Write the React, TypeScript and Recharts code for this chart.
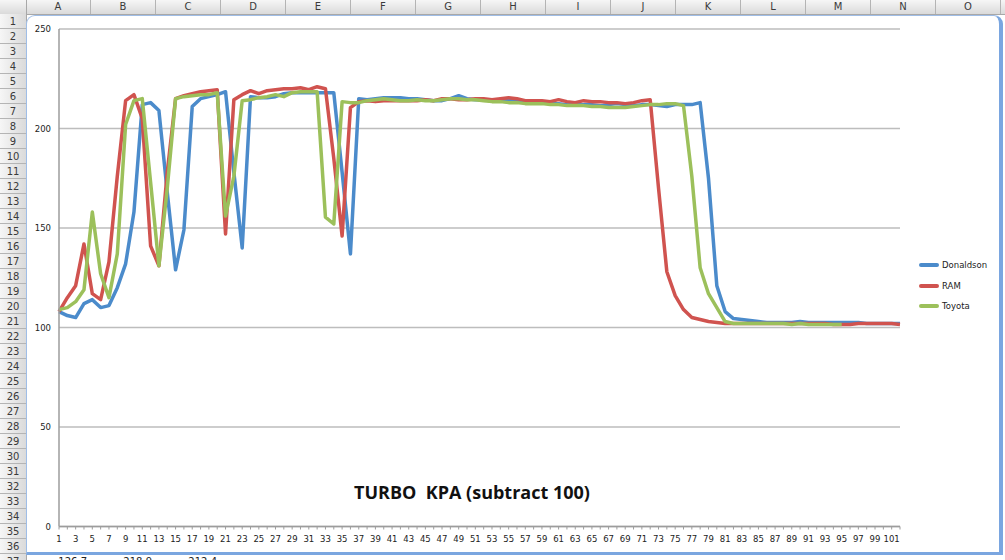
import React from 'react';
import { LineChart, Line, XAxis, YAxis, CartesianGrid, Legend } from 'recharts';

// sample number on the x axis
const samples = [
  1, 2, 3, 4, 5, 6, 7, 8, 9, 10, 11, 12, 13, 14, 15, 16, 17, 18, 19, 20,
  21, 22, 23, 24, 25, 26, 27, 28, 29, 30, 31, 32, 33, 34, 35, 36, 37, 38, 39, 40,
  41, 42, 43, 44, 45, 46, 47, 48, 49, 50, 51, 52, 53, 54, 55, 56, 57, 58, 59, 60,
  61, 62, 63, 64, 65, 66, 67, 68, 69, 70, 71, 72, 73, 74, 75, 76, 77, 78, 79, 80,
  81, 82, 83, 84, 85, 86, 87, 88, 89, 90, 91, 92, 93, 94, 95, 96, 97, 98, 99, 100,
  101, 102,
];

const donaldson = [
  108, 106, 105, 112, 114, 110, 111, 120, 132, 158,
  212, 213, 209, 168, 129, 149, 211, 215, 216, 217,
  218.5, 178, 140, 216, 215.5, 215.5, 216, 217.5, 218, 218,
  218, 218, 218, 218, 178, 137, 215, 214.5, 215, 215.5,
  215.5, 215.5, 215, 215, 214.5, 214, 214, 215, 216.5, 215,
  214.5, 214.5, 214, 214, 214, 214, 213.5, 213, 213, 212.5,
  212.5, 212, 212.5, 212, 212, 211.5, 212, 212.5, 212, 211.5,
  212, 212, 211.5, 211, 212, 212, 212, 213, 175, 121,
  108, 104.5, 104, 103.5, 103, 102.5, 102.5, 102.5, 102.5, 103,
  102.5, 102.5, 102.5, 102.5, 102.5, 102.5, 102.5, 102, 102, 102,
  102, 102,
];

const ram = [
  108, 115, 121, 142, 117, 114, 133, 176, 214, 217,
  205, 141, 131, 178, 215, 216.5, 217.5, 218.5, 219, 219.5,
  147, 214.5, 217, 219, 217.5, 219, 219.5, 220, 220, 220.5,
  219.5, 221, 220, 185, 146, 210.5, 213.5, 214, 213.5, 214,
  214, 214, 214, 214, 214.5, 214, 215, 215, 214.5, 214.5,
  215, 215, 214.5, 215, 215.5, 215, 214, 214, 214, 213.5,
  214.5, 213.5, 213, 214, 213.5, 213.5, 213, 213, 212.5, 213,
  214, 214.5, 170, 128, 116, 109, 105, 104, 103, 102.5,
  102, 102, 102, 102, 102, 102, 102, 102, 102, 102,
  102, 102, 102, 101.5, 101.5, 101.5, 102, 102, 102, 102,
  102, 101.5,
];

const toyota = [
  109, 110, 113, 119, 158, 127, 115, 137, 202, 214,
  215, 173, 131, 170, 215, 216, 216.5, 217, 217, 218,
  156, 176, 214, 214.5, 215.5, 216, 217, 216, 218, 218.5,
  218.5, 218.5, 155.5, 152, 213.5, 213, 213, 214, 214.5, 215,
  214.5, 214, 214, 214.5, 214, 214, 214.5, 215, 215, 214.5,
  214.5, 214, 213.5, 213.5, 213, 213, 212.5, 212.5, 212.5, 212,
  212, 211.5, 211.5, 211.5, 211, 211, 210.5, 210.5, 210.5, 211,
  211.5, 212, 212, 212.5, 212.5, 211.5, 176, 130, 117, 110,
  103, 102, 102, 102, 102, 102, 102, 102, 101.5, 102,
  101.5, 101.5, 101.5, 101.5, 101.5,
];

const yTicks = [0, 50, 100, 150, 200, 250];
const columnLetters = ['A', 'B', 'C', 'D', 'E', 'F', 'G', 'H', 'I', 'J', 'K', 'L', 'M', 'N', 'O'];
const row37Cells = ['126.7', '218.9', '212.4'];

const data = samples.map((s, i) => ({
  sample: s,
  Donaldson: donaldson[i],
  RAM: ram[i],
  Toyota: i < toyota.length ? toyota[i] : null,
}));

const FONT = '"DejaVu Sans", Verdana, sans-serif';
const COL_W = 65;
const ROW_H = 15;
const HEAD_H = 14;
const ROWHEAD_W = 26;

// only every second sample gets a label, like Excel does
const XTick = (props: any) => {
  const { x, y, payload } = props;
  if (payload.value % 2 === 0) return <g />;
  return (
    <text x={x} y={y} dy="0.71em" textAnchor="middle" fontSize={8.5} fontFamily={FONT} fill="#222">
      {payload.value}
    </text>
  );
};

const renderLegend = (props: any) => (
  <div>
    {(props.payload || []).map((p: any) => (
      <div key={p.value} style={{ display: 'flex', alignItems: 'center', height: 20.5 }}>
        <span style={{ display: 'inline-block', width: 20, height: 4, borderRadius: 2, background: p.color, marginRight: 3 }} />
        <span style={{ fontSize: 8.5, fontFamily: FONT, color: '#222' }}>{p.value}</span>
      </div>
    ))}
  </div>
);

const headerBg = 'linear-gradient(#f6f6f6, #dadada)';

const App: React.FC = () => {
  return (
    <div style={{ position: 'fixed', left: 0, top: 0, width: 1005, height: 560, overflow: 'hidden', background: '#fff' }}>
      {/* column header strip */}
      <div style={{ position: 'absolute', left: 0, top: 0, width: 1005, height: HEAD_H, background: headerBg, borderBottom: '1px solid #a8a8a8' }} />
      <div style={{ position: 'absolute', left: 0, top: 0, width: ROWHEAD_W, height: HEAD_H, borderRight: '1px solid #a8a8a8' }} />
      {columnLetters.map((c, i) => (
        <div
          key={c}
          style={{
            position: 'absolute', left: ROWHEAD_W + i * COL_W, top: 0, width: COL_W, height: HEAD_H,
            borderRight: '1px solid #b4b4b4', boxSizing: 'border-box', textAlign: 'center',
            fontFamily: FONT, fontSize: 10, lineHeight: HEAD_H + 'px', color: '#3a3a3a',
          }}
        >
          {c}
        </div>
      ))}
      {/* row header strip */}
      <div style={{ position: 'absolute', left: 0, top: HEAD_H, width: ROWHEAD_W, height: 560 - HEAD_H, background: 'linear-gradient(90deg, #f6f6f6, #dadada)', borderRight: '1px solid #a8a8a8' }} />
      {Array.from({ length: 37 }, (_, i) => (
        <div
          key={i}
          style={{
            position: 'absolute', left: 0, top: HEAD_H + i * ROW_H, width: ROWHEAD_W, height: ROW_H,
            borderBottom: '1px solid #b4b4b4', boxSizing: 'border-box', textAlign: 'center',
            fontFamily: FONT, fontSize: 10, lineHeight: ROW_H + 'px', color: '#3a3a3a',
          }}
        >
          {i + 1}
        </div>
      ))}
      {/* row 37 peeking out below the chart */}
      {row37Cells.map((v, i) => (
        <div
          key={v}
          style={{
            position: 'absolute', left: ROWHEAD_W + i * COL_W, top: HEAD_H + 36 * ROW_H, width: COL_W - 4, height: ROW_H,
            textAlign: 'right', fontFamily: FONT, fontSize: 10, lineHeight: ROW_H + 'px', color: '#222',
          }}
        >
          {v}
        </div>
      ))}

      {/* chart object */}
      <div
        style={{
          position: 'absolute', left: 26, top: 15, width: 977, height: 540, boxSizing: 'border-box',
          background: '#fff', border: '1px solid #9fbde6', borderRight: '4px solid #7aa6e0',
          borderBottom: '3px solid #7aa6e0', borderTopLeftRadius: 9, borderTopRightRadius: 9,
        }}
      >
        <div style={{ position: 'absolute', left: 0, top: -1 }}>
          <LineChart width={972} height={537} data={data} margin={{ top: 14, right: 99, left: 2, bottom: 5.5 }}>
            <CartesianGrid vertical={false} stroke="#bdbdbd" strokeWidth={1.5} />
            <XAxis
              dataKey="sample"
              interval={0}
              height={20}
              tickSize={3}
              tickMargin={6}
              tick={<XTick />}
              stroke="#9c9c9c"
              tickLine={{ stroke: '#9c9c9c' }}
              axisLine={{ stroke: '#9c9c9c', strokeWidth: 1.5 }}
            />
            <YAxis
              domain={[0, 250]}
              ticks={yTicks}
              width={30}
              tickLine={false}
              axisLine={{ stroke: '#9c9c9c', strokeWidth: 1.5 }}
              tick={{ fontSize: 8.5, fontFamily: FONT, fill: '#222' }}
            />
            <Legend
              layout="vertical"
              align="center"
              verticalAlign="middle"
              content={renderLegend}
              wrapperStyle={{ left: 892, top: 240, width: 80 }}
            />
            <Line type="linear" dataKey="Donaldson" stroke="#4b8bcb" strokeWidth={3.5} dot={false} isAnimationActive={false} strokeLinejoin="round" />
            <Line type="linear" dataKey="RAM" stroke="#d0534f" strokeWidth={3.5} dot={false} isAnimationActive={false} strokeLinejoin="round" />
            <Line type="linear" dataKey="Toyota" stroke="#9cc05b" strokeWidth={3.5} dot={false} isAnimationActive={false} strokeLinejoin="round" />
          </LineChart>
        </div>
        <div
          style={{
            position: 'absolute', left: 472 - 27, top: 464, transform: 'translateX(-50%)', whiteSpace: 'pre',
            fontFamily: '"Open Sans", sans-serif', fontWeight: 700, fontSize: 18, color: '#111',
          }}
        >
          {'TURBO  KPA (subtract 100)'}
        </div>
      </div>
    </div>
  );
};

export default App;
